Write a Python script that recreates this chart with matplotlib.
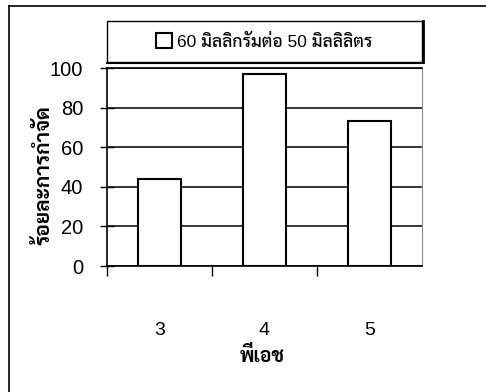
import matplotlib
matplotlib.use("Agg")
import matplotlib.pyplot as plt
from matplotlib.patches import Rectangle
from matplotlib.lines import Line2D

# ร้อยละการกำจัด ที่ pH ต่างๆ
ph = ["3", "4", "5"]
removal = [44, 97, 73]
series_name = "60 มิลลิกรัมต่อ 50 มิลลิลิตร"
x_title = "พีเอช"
y_title = "ร้อยละการกำจัด"

fonts = ["Liberation Sans", "Sarabun"]
plt.rcParams["font.family"] = fonts

fig = plt.figure(figsize=(4.86, 3.92), dpi=100)
ax = fig.add_axes([0.220, 0.3214, 0.648, 0.5051])

pos = list(range(len(ph)))
ax.bar(pos, removal, width=0.41, color="white", edgecolor="black", linewidth=1.5, zorder=3)

ax.set_xlim(-0.5, len(ph) - 0.5)
ax.set_ylim(0, 100)
ax.set_yticks(range(0, 101, 20))
ax.yaxis.grid(True, color="black", linewidth=1.1, zorder=0)
ax.tick_params(axis="y", direction="inout", length=10, width=1, pad=12, labelsize=14.5)

ax.set_xticks(pos)
ax.set_xticklabels(ph)
ax.tick_params(axis="x", which="major", length=0, pad=40, labelsize=14)
ax.set_xticks([-0.5, 0.5, 1.5], minor=True)
ax.tick_params(axis="x", which="minor", direction="out", length=7, width=1)

for s in ["left", "bottom", "top"]:
    ax.spines[s].set_linewidth(1.2)
ax.spines["right"].set_color("#888888")

ax.set_xlabel(x_title, fontsize=14, fontweight="bold")
ax.xaxis.set_label_coords(0.492, -0.452)
ax.xaxis.label.set_va("center")
ax.set_ylabel(y_title, fontsize=15, fontweight="bold")
ax.yaxis.set_label_coords(-0.2, 0.46)
ax.yaxis.label.set_va("center")

# กรอบคำอธิบาย
box = Rectangle((0, 1.03), 1, 0.207, transform=ax.transAxes, fill=False,
                edgecolor="black", linewidth=1, clip_on=False)
ax.add_patch(box)
ax.plot([1.004, 1.004], [1.03, 1.237], transform=ax.transAxes, color="black",
        linewidth=2, clip_on=False)
ax.plot([0, 1.004], [1.026, 1.026], transform=ax.transAxes, color="black",
        linewidth=1.5, clip_on=False)
leg = ax.legend(handles=[ax.patches[0]], labels=[series_name], loc="center",
                bbox_to_anchor=(0.5, 1.134), frameon=False,
                prop={"size": 12.5, "weight": "medium"},
                handlelength=0.9, handleheight=0.9, handletextpad=0.3)

# เส้นกรอบรูป
fig.add_artist(Line2D([0.0185, 0.0185], [0, 0.9847], color="black", linewidth=1.2))
fig.add_artist(Line2D([0.0185, 1], [0.9847, 0.9847], color="black", linewidth=1.2))

fig.savefig("out.png", dpi=100)
